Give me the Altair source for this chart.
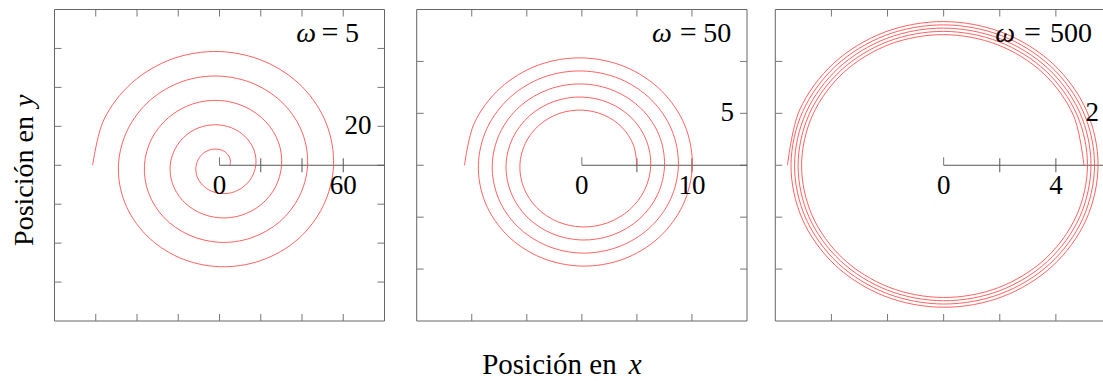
import altair as alt
import pandas as pd

FONT = "Liberation Serif"
RED = "#ff5050"
FRAME = "#666666"
TICK = "#777777"
AXIS = "#555555"

# Spiral trajectories, one point every sixteenth of a turn
x_w5 = [5.0, 5.3, 4.6, 2.8, 0, -3.4, -6.9, -9.7, -11.3, -11.2, -9.1, -5.2, 0, 5.8, 11.3, 15.5,
        17.6, 17.0, 13.5, 7.6, 0, -8.2, -15.8, -21.3, -23.9, -22.8, -18.0, -10.0, 0, 10.6, 20.2, 27.1,
        30.1, 28.6, 22.4, 12.4, 0, -13.0, -24.6, -32.9, -36.4, -34.4, -26.9, -14.8, 0, 15.4, 29.1, 38.7,
        42.7, 40.2, 31.3, 17.2, 0, -17.8, -33.5, -44.5, -49.0, -46.0, -35.7, -19.6, 0, 20.2, 38.0, 50.3,
        55.3, 51.8, 40.2, 22.1, 0, -22.7, -42.4, -56.1, -61.5]
y_w5 = [0, 2.2, 4.6, 6.8, 8.1, 8.2, 6.9, 4.0, 0, -4.6, -9.1, -12.6, -14.4, -14.1, -11.3, -6.4,
        0, 7.0, 13.5, 18.4, 20.7, 19.9, 15.8, 8.8, 0, -9.4, -18.0, -24.2, -27.0, -25.7, -20.2, -11.2,
        0, 11.8, 22.4, 30.0, 33.3, 31.5, 24.6, 13.6, 0, -14.2, -26.9, -35.8, -39.6, -37.3, -29.1, -16.0,
        0, 16.6, 31.3, 41.6, 45.8, 43.1, 33.5, 18.4, 0, -19.0, -35.7, -47.4, -52.1, -48.9, -38.0, -20.8,
        0, 21.4, 40.2, 53.2, 58.4, 54.7, 42.4, 23.3, 0]

x_w50 = [5.00, 4.69, 3.65, 2.00, 0, -2.06, -3.87, -5.13, -5.63, -5.27, -4.09, -2.24, 0, 2.30, 4.31, 5.71,
         6.26, 5.85, 4.54, 2.48, 0, -2.54, -4.76, -6.29, -6.89, -6.43, -4.98, -2.72, 0, 2.79, 5.20, 6.87,
         7.51, 7.01, 5.42, 2.97, 0, -3.03, -5.65, -7.45, -8.14, -7.59, -5.87, -3.21, 0, 3.27, 6.09, 8.03,
         8.77, 8.17, 6.31, 3.45, 0, -3.51, -6.53, -8.61, -9.40, -8.76, -6.76, -3.69, 0, 3.75, 6.98, 9.19,
         10.03, 9.34, 7.20, 3.93, 0, -3.99, -7.42, -9.77, -10.66]
y_w50 = [0, 1.94, 3.65, 4.84, 5.31, 4.98, 3.87, 2.12, 0, -2.18, -4.09, -5.42, -5.94, -5.56, -4.31, -2.36,
         0, 2.42, 4.54, 6.00, 6.57, 6.14, 4.76, 2.60, 0, -2.66, -4.98, -6.58, -7.20, -6.72, -5.20, -2.85,
         0, 2.91, 5.42, 7.16, 7.83, 7.30, 5.65, 3.09, 0, -3.15, -5.87, -7.74, -8.46, -7.88, -6.09, -3.33,
         0, 3.39, 6.31, 8.32, 9.08, 8.47, 6.53, 3.57, 0, -3.63, -6.76, -8.90, -9.71, -9.05, -6.98, -3.81,
         0, 3.87, 7.20, 9.48, 10.34, 9.63, 7.42, 4.05, 0]

x_w500 = [5.000, 4.627, 3.547, 1.922, 0, -1.928, -3.569, -4.670, -5.063, -4.685, -3.591, -1.946,
          0, 1.952, 3.613, 4.728, 5.126, 4.743, 3.636, 1.971, 0, -1.977, -3.658, -4.786,
          -5.188, -4.801, -3.680, -1.995, 0, 2.001, 3.702, 4.844, 5.251, 4.859, 3.724, 2.019,
          0, -2.025, -3.747, -4.902, -5.314, -4.917, -3.769, -2.043, 0, 2.049, 3.791, 4.960,
          5.377, 4.975, 3.813, 2.067, 0, -2.073, -3.835, -5.019, -5.440, -5.033, -3.858, -2.091,
          0, 2.097, 3.880, 5.077, 5.503, 5.091, 3.902, 2.115, 0, -2.121, -3.924, -5.135, -5.566]
y_w500 = [0, 1.916, 3.547, 4.641, 5.031, 4.656, 3.569, 1.934, 0, -1.940, -3.591, -4.699,
          -5.094, -4.714, -3.613, -1.958, 0, 1.964, 3.636, 4.757, 5.157, 4.772, 3.658, 1.983,
          0, -1.989, -3.680, -4.815, -5.220, -4.830, -3.702, -2.007, 0, 2.013, 3.724, 4.873,
          5.283, 4.888, 3.747, 2.031, 0, -2.037, -3.769, -4.931, -5.346, -4.946, -3.791, -2.055,
          0, 2.061, 3.813, 4.990, 5.408, 5.004, 3.835, 2.079, 0, -2.085, -3.858, -5.048,
          -5.471, -5.062, -3.880, -2.103, 0, 2.109, 3.902, 5.106, 5.534, 5.120, 3.924, 2.127, 0]

# Axis limits, frame ticks, centre-axis ticks and labels per panel
limits = [80, 15, 6]
frame_ticks = [[-60, -40, -20, 0, 20, 40, 60], [-10, -5, 0, 5, 10], [-4, -2, 0, 2, 4]]
center_ticks = [[20, 40, 60], [5, 10], [2, 4]]
x_label_vals = [[0, 60], [0, 10], [0, 4]]
y_label_vals = [[20], [5], [2]]
omegas = ["5", "50", "500"]

# Page layout: horizontal pixel span of each panel, shared vertical span
x_spans = [(54.5, 384.5), (416.7, 747.0), (775.3, 1112.0)]
TOP, BOTTOM = 9.5, 321.0
omega_pos = [(316.0, 330.0, 345.0), (671.7, 688.3, 703.3), (1015.0, 1032.5, 1050.0)]
OMEGA_BASE = 42.0
TL = 7  # frame tick length


def panel_layers(i):
    lim = limits[i]
    x0, x1 = x_spans[i]
    sx = alt.Scale(domain=[-lim, lim], range=[x0, x1], nice=False, zero=False)
    sy = alt.Scale(domain=[-lim, lim], range=[BOTTOM, TOP], nice=False, zero=False)
    X = lambda f: alt.X(f, scale=sx, axis=None)
    Y = lambda f: alt.Y(f, scale=sy, axis=None)

    xs, ys = [(x_w5, y_w5), (x_w50, y_w50), (x_w500, y_w500)][i]
    spiral_df = pd.DataFrame({"x": xs, "y": ys, "i": list(range(len(xs)))})
    ft = pd.DataFrame({"t": frame_ticks[i]})
    box = pd.DataFrame({"a": [-lim], "b": [lim]})

    frame = alt.Chart(box).mark_rect(fillOpacity=0, stroke=FRAME, strokeWidth=1).encode(
        x=X("a:Q"), x2="b:Q", y=Y("a:Q"), y2="b:Q")

    tick_mark = dict(color=TICK, strokeWidth=1)
    bottom = alt.Chart(ft).mark_rule(**tick_mark).encode(
        x=X("t:Q"), y=alt.value(BOTTOM - TL), y2=alt.value(BOTTOM))
    top = alt.Chart(ft).mark_rule(**tick_mark).encode(
        x=X("t:Q"), y=alt.value(TOP), y2=alt.value(TOP + TL))
    left = alt.Chart(ft).mark_rule(**tick_mark).encode(
        y=Y("t:Q"), x=alt.value(x0), x2=alt.value(x0 + TL))
    right = alt.Chart(ft).mark_rule(**tick_mark).encode(
        y=Y("t:Q"), x=alt.value(x1 - TL), x2=alt.value(x1))

    axis_df = pd.DataFrame({"a": [0], "b": [lim], "c": [0]})
    axis_line = alt.Chart(axis_df).mark_rule(color=AXIS, strokeWidth=1).encode(
        x=X("a:Q"), x2="b:Q", y=Y("c:Q"))

    ct = pd.DataFrame({"t": center_ticks[i], "c": [0] * len(center_ticks[i])})
    cticks = alt.Chart(ct).mark_rule(color=AXIS, strokeWidth=1, yOffset=-7, y2Offset=7).encode(
        x=X("t:Q"), y=Y("c:Q"), y2="c:Q")
    zero_tick = alt.Chart(axis_df).mark_rule(color=TICK, strokeWidth=1, yOffset=-8, y2Offset=0).encode(
        x=X("a:Q"), y=Y("c:Q"), y2="c:Q")

    spiral = alt.Chart(spiral_df).mark_line(
        interpolate="catmull-rom", color=RED, strokeWidth=0.9
    ).encode(x=X("x:Q"), y=Y("y:Q"), order="i:Q")

    xl = pd.DataFrame({"v": x_label_vals[i], "s": [str(v) for v in x_label_vals[i]],
                       "c": [0] * len(x_label_vals[i])})
    xlabels = alt.Chart(xl).mark_text(
        font=FONT, fontSize=27, baseline="middle", align="center", dy=21, color="black"
    ).encode(x=X("v:Q"), y=Y("c:Q"), text="s:N")

    yl = pd.DataFrame({"v": y_label_vals[i], "s": [str(v) for v in y_label_vals[i]],
                       "m": [lim] * len(y_label_vals[i])})
    ylabels = alt.Chart(yl).mark_text(
        font=FONT, fontSize=27, baseline="middle", align="right", dx=-13, color="black"
    ).encode(x=X("m:Q"), y=Y("v:Q"), text="s:N")

    one = pd.DataFrame({"k": [0]})
    wx, ex, nx = omega_pos[i]
    om = alt.Chart(one).mark_text(
        font=FONT, fontSize=28, fontStyle="italic", align="right", baseline="alphabetic",
        text="ω", color="black").encode(x=alt.value(wx), y=alt.value(OMEGA_BASE))
    eq = alt.Chart(one).mark_text(
        font=FONT, fontSize=30, align="center", baseline="alphabetic",
        text="=", color="black").encode(x=alt.value(ex), y=alt.value(OMEGA_BASE))
    num = alt.Chart(one).mark_text(
        font=FONT, fontSize=28, align="left", baseline="alphabetic",
        text=omegas[i], color="black").encode(x=alt.value(nx), y=alt.value(OMEGA_BASE))

    return [frame, bottom, top, left, right, axis_line, cticks, zero_tick, spiral,
            xlabels, ylabels, om, eq, num]


one = pd.DataFrame({"k": [0]})
# Shared axis titles
y_title = alt.Chart(one).mark_text(
    font=FONT, fontSize=28, angle=270, align="right", baseline="alphabetic",
    text="Posición en", color="black").encode(x=alt.value(33), y=alt.value(116))
y_title_var = alt.Chart(one).mark_text(
    font=FONT, fontSize=28, angle=270, align="left", baseline="alphabetic",
    fontStyle="italic", text="y", color="black").encode(x=alt.value(33), y=alt.value(107))
x_title = alt.Chart(one).mark_text(
    font=FONT, fontSize=29, align="right", baseline="alphabetic",
    text="Posición en", color="black").encode(x=alt.value(616.7), y=alt.value(374))
x_title_var = alt.Chart(one).mark_text(
    font=FONT, fontSize=29, align="left", baseline="alphabetic",
    fontStyle="italic", text="x", color="black").encode(x=alt.value(628.7), y=alt.value(374))

layers = panel_layers(0) + panel_layers(1) + panel_layers(2) + [y_title, y_title_var, x_title, x_title_var]

chart = alt.layer(*layers).resolve_scale(x="independent", y="independent").properties(
    width=1103, height=381, padding=0, background="white",
    autosize=alt.AutoSizeParams(type="none"),
).configure_view(stroke=None)

chart.save("out.html", embed_options={"renderer": "svg", "actions": False})
